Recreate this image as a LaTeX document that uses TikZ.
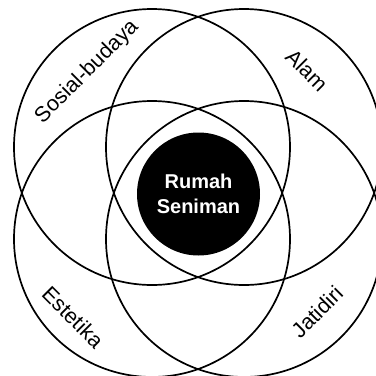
\documentclass[tikz,border=0pt]{standalone}
\usepackage{fontspec}
\setmainfont{Liberation Sans}
\begin{document}
\begin{tikzpicture}[x=1pt,y=-1pt,
  ring/.style={draw=black,line width=1.7pt},
  lbl/.style={font=\fontsize{21.5}{25}\selectfont,inner sep=0pt},
  core/.style={circle,fill=black,minimum size=123pt,inner sep=0pt,text=white,align=center,
    font=\fontsize{20}{25}\selectfont\bfseries}]
\useasboundingbox (0,0) rectangle (376,376);
\clip (0,0) rectangle (376,376);
\fill[white] (0,0) rectangle (376,376);
\draw[ring] (152,147) circle[radius=138];
\draw[ring] (244,147) circle[radius=138];
\draw[ring] (152,239) circle[radius=138];
\draw[ring] (244,239) circle[radius=138];
\node[core] (core) at (198.5,194) {Rumah\\Seniman};
\node[lbl,rotate=45] (sb) at (87,72) {Sosial-budaya};
\node[lbl,rotate=-45] (al) at (307,70) {Alam};
\node[lbl,rotate=-45] (es) at (73,317) {Estetika};
\node[lbl,rotate=45] (jd) at (317,312) {Jatidiri};
\end{tikzpicture}
\end{document}
